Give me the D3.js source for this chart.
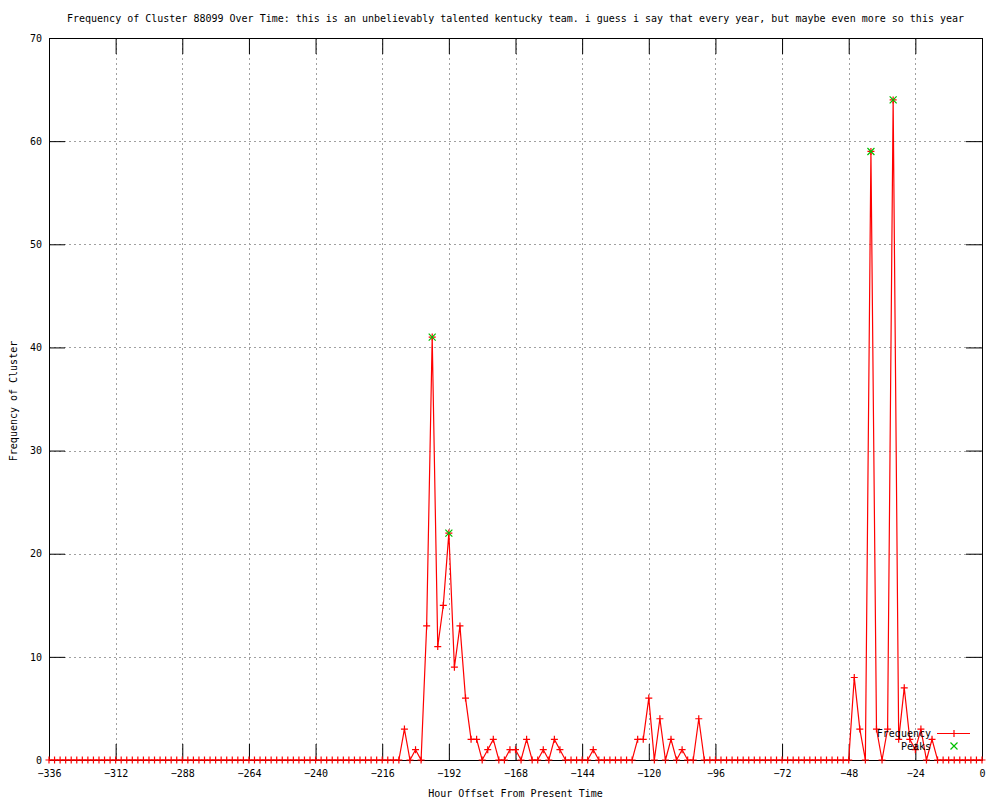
<!DOCTYPE html>
<html>
<head>
<meta charset="utf-8">
<script src="https://cdn.jsdelivr.net/npm/d3@7"></script>
<style>
  html, body { margin: 0; padding: 0; background: #fff; }
  svg { display: block; }
  text { font-family: "DejaVu Sans Mono", "Liberation Mono", monospace; font-size: 10px; fill: #000; }
</style>
</head>
<body>
<svg id="chart" width="1000" height="800"></svg>
<script>
// ---- data ----
const chartTitle = "Frequency of Cluster 88099 Over Time: this is an unbelievably talented kentucky team. i guess i say that every year, but maybe even more so this year";
const xLabel = "Hour Offset From Present Time";
const yLabel = "Frequency of Cluster";

const hours = [
  -336,-334,-332,-330,-328,-326,-324,-322,-320,-318,-316,-314,
  -312,-310,-308,-306,-304,-302,-300,-298,-296,-294,-292,-290,
  -288,-286,-284,-282,-280,-278,-276,-274,-272,-270,-268,-266,
  -264,-262,-260,-258,-256,-254,-252,-250,-248,-246,-244,-242,
  -240,-238,-236,-234,-232,-230,-228,-226,-224,-222,-220,-218,
  -216,-214,-212,-210,-208,-206,-204,-202,-200,-198,-196,-194,
  -192,-190,-188,-186,-184,-182,-180,-178,-176,-174,-172,-170,
  -168,-166,-164,-162,-160,-158,-156,-154,-152,-150,-148,-146,
  -144,-142,-140,-138,-136,-134,-132,-130,-128,-126,-124,-122,
  -120,-118,-116,-114,-112,-110,-108,-106,-104,-102,-100,-98,
  -96,-94,-92,-90,-88,-86,-84,-82,-80,-78,-76,-74,
  -72,-70,-68,-66,-64,-62,-60,-58,-56,-54,-52,-50,
  -48,-46,-44,-42,-40,-38,-36,-34,-32,-30,-28,-26,
  -24,-22,-20,-18,-16,-14,-12,-10,-8,-6,-4,-2,
  0
];

const frequency = [
  0,0,0,0,0,0,0,0,0,0,0,0,
  0,0,0,0,0,0,0,0,0,0,0,0,
  0,0,0,0,0,0,0,0,0,0,0,0,
  0,0,0,0,0,0,0,0,0,0,0,0,
  0,0,0,0,0,0,0,0,0,0,0,0,
  0,0,0,0,3,0,1,0,13,41,11,15,
  22,9,13,6,2,2,0,1,2,0,0,1,
  1,0,2,0,0,1,0,2,1,0,0,0,
  0,0,1,0,0,0,0,0,0,0,2,2,
  6,0,4,0,2,0,1,0,0,4,0,0,
  0,0,0,0,0,0,0,0,0,0,0,0,
  0,0,0,0,0,0,0,0,0,0,0,0,
  0,8,3,0,59,3,0,3,64,2,7,2,
  1,3,0,2,0,0,0,0,0,0,0,0,
  0
];

const peakHours = [-198, -192, -40, -32];
const peakValues = [41, 22, 59, 64];

const xTicks = [-336,-312,-288,-264,-240,-216,-192,-168,-144,-120,-96,-72,-48,-24,0];
const yTicks = [0,10,20,30,40,50,60,70];

const seriesNames = ["Frequency", "Peaks"];

// ---- layout ----
const pLeft = 49, pRight = 982, pTop = 38, pBottom = 760;
const tickLen = 16;
const red = "#ff0000", green = "#00c000", gridColor = "#a0a0a0";

const svg = d3.select("#chart");
const x = d3.scaleLinear().domain([-336, 0]).range([pLeft, pRight]);
const y = d3.scaleLinear().domain([0, 70]).range([pBottom, pTop]);

// grid
const grid = svg.append("g");
grid.selectAll("line.gx").data(xTicks.filter(t => t > -336 && t < 0)).join("line")
  .attr("x1", d => Math.round(x(d)) + 0.5).attr("x2", d => Math.round(x(d)) + 0.5)
  .attr("y1", pTop).attr("y2", pBottom)
  .attr("stroke", gridColor).attr("stroke-width", 1).attr("stroke-dasharray", "2,3");
grid.selectAll("line.gy").data(yTicks.filter(t => t > 0 && t < 70)).join("line")
  .attr("x1", pLeft).attr("x2", pRight)
  .attr("y1", d => Math.round(y(d)) + 0.5).attr("y2", d => Math.round(y(d)) + 0.5)
  .attr("stroke", gridColor).attr("stroke-width", 1).attr("stroke-dasharray", "2,3");

// axes (gnuplot-style: ticks inward, mirrored)
const xb = svg.append("g").attr("transform", `translate(0,${pBottom})`)
  .call(d3.axisBottom(x).tickValues(xTicks).tickSize(-tickLen).tickPadding(10).tickFormat(d3.format("d")));
const xt = svg.append("g").attr("transform", `translate(0,${pTop})`)
  .call(d3.axisTop(x).tickValues(xTicks).tickSize(-tickLen).tickFormat(""));
const yl = svg.append("g").attr("transform", `translate(${pLeft},0)`)
  .call(d3.axisLeft(y).tickValues(yTicks).tickSize(-tickLen).tickPadding(7).tickFormat(d3.format("d")));
const yr = svg.append("g").attr("transform", `translate(${pRight},0)`)
  .call(d3.axisRight(y).tickValues(yTicks).tickSize(-tickLen).tickFormat(""));
[xb, xt, yl, yr].forEach(g => {
  g.select(".domain").remove();
  g.selectAll("line").attr("stroke", "#000");
  g.selectAll("text").attr("font-family", null).attr("font-size", null).attr("fill", "#000");
});
xb.selectAll("text").text(d => d < 0 ? "\u2212" + Math.abs(d) : d);

// border
svg.append("rect").attr("x", pLeft + 0.5).attr("y", pTop + 0.5)
  .attr("width", pRight - pLeft).attr("height", pBottom - pTop)
  .attr("fill", "none").attr("stroke", "#000").attr("stroke-width", 1);

// frequency line
const pts = hours.map((h, i) => [h, frequency[i]]);
const line = d3.line().x(d => x(d[0])).y(d => y(d[1]));
svg.append("path").datum(pts).attr("d", line)
  .attr("fill", "none").attr("stroke", red).attr("stroke-width", 1.2);

const ms = 3.5;
const plus = svg.append("g").attr("stroke", red).attr("stroke-width", 1.2);
plus.selectAll("path").data(pts).join("path")
  .attr("d", d => {
    const px = x(d[0]), py = y(d[1]);
    return `M${px - ms},${py}H${px + ms}M${px},${py - ms}V${py + ms}`;
  });

// peaks
const peakPts = peakHours.map((h, i) => [h, peakValues[i]]);
const crosses = svg.append("g").attr("stroke", green).attr("stroke-width", 1.2);
crosses.selectAll("path").data(peakPts).join("path")
  .attr("d", d => {
    const px = x(d[0]), py = y(d[1]);
    return `M${px - ms},${py - ms}L${px + ms},${py + ms}M${px - ms},${py + ms}L${px + ms},${py - ms}`;
  });

// legend
const legX = 931, legY1 = 733, legY2 = 746;
const leg = svg.append("g");
leg.append("text").attr("x", legX).attr("y", legY1).attr("dy", "0.35em").attr("text-anchor", "end").text(seriesNames[0]);
leg.append("line").attr("x1", 937).attr("x2", 970).attr("y1", legY1 + 0.5).attr("y2", legY1 + 0.5)
  .attr("stroke", red).attr("stroke-width", 1.2);
leg.append("path").attr("d", `M${954 - ms},${legY1 + 0.5}H${954 + ms}M954,${legY1 + 0.5 - ms}V${legY1 + 0.5 + ms}`)
  .attr("stroke", red).attr("stroke-width", 1.2);
leg.append("text").attr("x", legX).attr("y", legY2).attr("dy", "0.35em").attr("text-anchor", "end").text(seriesNames[1]);
leg.append("path").attr("d", `M${954 - ms},${legY2 - ms}L${954 + ms},${legY2 + ms}M${954 - ms},${legY2 + ms}L${954 + ms},${legY2 - ms}`)
  .attr("stroke", green).attr("stroke-width", 1.2);

// titles
svg.append("text").attr("x", (pLeft + pRight) / 2).attr("y", 18).attr("dy", "0.35em")
  .attr("text-anchor", "middle").text(chartTitle);
svg.append("text").attr("x", (pLeft + pRight) / 2).attr("y", 793).attr("dy", "0.35em")
  .attr("text-anchor", "middle").text(xLabel);
svg.append("text").attr("transform", `translate(13,401) rotate(-90)`).attr("dy", "0.35em")
  .attr("text-anchor", "middle").text(yLabel);
</script>
</body>
</html>
